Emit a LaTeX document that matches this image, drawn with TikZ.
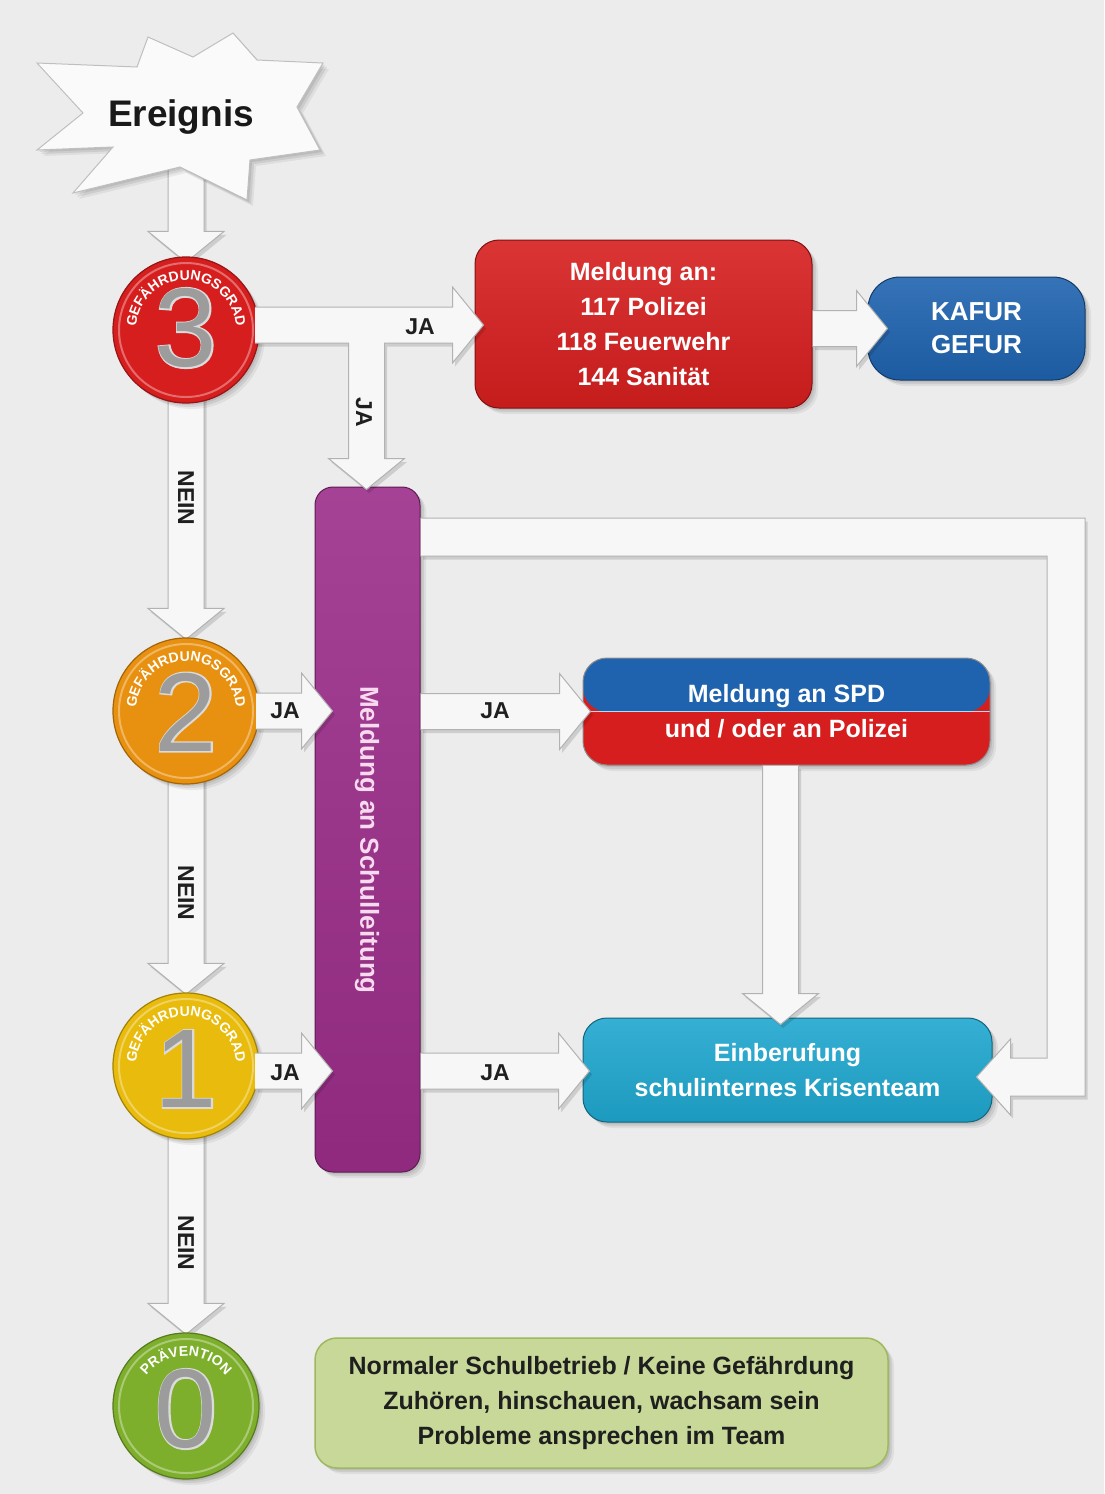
\documentclass[tikz,border=0pt]{standalone}
\usepackage{fontspec}
\setmainfont{Liberation Sans}
\newfontfamily\digitfontA[FakeBold=2.5]{Liberation Sans}
\usetikzlibrary{shadows,decorations.text,calc}
\pgfdeclarelayer{paper}
\pgfdeclarelayer{arrowsbg}
\pgfdeclarelayer{arrowsfg}
\pgfsetlayers{paper,arrowsbg,main,arrowsfg}

\definecolor{paperc}{HTML}{ECECEC}
\definecolor{redc}{HTML}{D61E1E}
\definecolor{bluec}{HTML}{1F63AF}
\definecolor{purplec}{HTML}{9B2D89}
\definecolor{cyanc}{HTML}{1FA7CF}
\definecolor{orangec}{HTML}{E8900F}
\definecolor{yellowc}{HTML}{E8BB0C}
\definecolor{greenc}{HTML}{7DAF2C}
\definecolor{olivec}{HTML}{C7D898}
\definecolor{oliveb}{HTML}{9FB95E}
\definecolor{pinkc}{HTML}{F7D9F0}
\definecolor{arrowc}{HTML}{F7F7F7}

\newcommand\fatSW{18}
\newcommand\fatHW{38}
\newcommand\fatHL{31}

\tikzset{
  softshadow/.style={
    drop shadow={fill=black,opacity=0.08,shadow xshift=2pt,shadow yshift=-2pt},
    drop shadow={fill=black,opacity=0.08,shadow xshift=4pt,shadow yshift=-4pt},
    drop shadow={fill=black,opacity=0.06,shadow xshift=6pt,shadow yshift=-6pt}},
  fatshadow/.style={fill=black,opacity=0.13,transform canvas={xshift=2.5pt,yshift=-3.5pt}},
  fatfill/.style={fill=arrowc},
  fatline/.style={draw=gray!60,line width=1pt,line join=miter},
  gcirc/.style={circle,minimum size=146pt,inner sep=0pt,fill=#1,draw=#1!70!black,line width=1.2pt,softshadow},
  box/.style={rounded corners=24pt,top color=#1!90!white,bottom color=#1!92!black,draw=#1!60!black,line width=1pt,
    text=white,font=\bfseries\fontsize{25}{35}\selectfont,align=center,inner sep=0pt,softshadow},
  lab/.style={font=\bfseries\fontsize{23}{23}\selectfont,text=black!88,inner sep=0pt},
  digitA/.style={font=\digitfontA\fontsize{112}{112}\selectfont,text=gray!28,inner sep=0pt},
  digitB/.style={font=\fontsize{112}{112}\selectfont,text=gray!78,inner sep=0pt},
  starsty/.style={fill=white!96!gray,draw=gray!50,line width=1pt,line join=miter,softshadow},
}

\newcommand\fatRpath{($(fa)+(0,\fatSW)$) -- ($(fb)+(-\fatHL,\fatSW)$) -- ($(fb)+(-\fatHL,\fatHW)$) -- (fb) -- ($(fb)+(-\fatHL,-\fatHW)$) -- ($(fb)+(-\fatHL,-\fatSW)$) -- ($(fa)+(0,-\fatSW)$)}
\newcommand\fatDpath{($(fa)+(-\fatSW,0)$) -- ($(fb)+(-\fatSW,\fatHL)$) -- ($(fb)+(-\fatHW,\fatHL)$) -- (fb) -- ($(fb)+(\fatHW,\fatHL)$) -- ($(fb)+(\fatSW,\fatHL)$) -- ($(fa)+(\fatSW,0)$)}
\newcommand\fatRight[2]{%
  \coordinate (fa) at (#1 |- #2); \coordinate (fb) at (#2);
  \fill[fatshadow] \fatRpath -- cycle;
  \fill[fatfill] \fatRpath -- cycle;
  \draw[fatline] \fatRpath;}
\newcommand\fatDown[2]{%
  \coordinate (fa) at (#2 |- #1); \coordinate (fb) at (#2);
  \fill[fatshadow] \fatDpath -- cycle;
  \fill[fatfill] \fatDpath -- cycle;
  \draw[fatline] \fatDpath;}
\newcommand\tPath{($(hs)+(0,18)$) -- ($(ht)+(-31,18)$) -- ($(ht)+(-31,38)$) -- (ht) -- ($(ht)+(-31,-38)$) -- ($(ht)+(-31,-18)$) -- ($(vj)+(18,-18)$) -- ($(vt)+(18,31)$) -- ($(vt)+(38,31)$) -- (vt) -- ($(vt)+(-38,31)$) -- ($(vt)+(-18,31)$) -- ($(vj)+(-18,-18)$) -- ($(hs)+(0,-18)$)}
\newcommand\uPath{($(sl.east |- uc)+(0,19)$) -- ($(uc)+(19,19)$) -- ($(uc |- kt)+(19,-19)$) -- ($(kt)+(34,-19)$) -- ($(kt)+(34,-38)$) -- (kt) -- ($(kt)+(34,38)$) -- ($(kt)+(34,19)$) -- ($(uc |- kt)+(-19,19)$) -- ($(uc)+(-19,-19)$) -- ($(sl.east |- uc)+(0,-19)$)}

\begin{document}
\begin{tikzpicture}[x=1pt,y=1pt]
\useasboundingbox (0,0) rectangle (1104,-1494);
\begin{pgfonlayer}{paper}
  \fill[paperc] (0,0) rectangle (1104,-1494);
\end{pgfonlayer}

% ---------- star ----------
\draw[starsty,shift={(181,-117)}] (-144,54) -- (-44,50) -- (-33,80) -- (12,60) -- (52,84) -- (76,57) -- (142,54)
  -- (116,10) -- (139,-33) -- (69,-43) -- (66,-83) -- (-1,-50) -- (-108,-76) -- (-68,-30) -- (-144,-33) -- (-98,4) -- cycle;
\node[font=\bfseries\fontsize{37}{37}\selectfont,text=black!90,inner sep=0pt] (ev) at (181,-117) {Ereignis};

% ---------- circles ----------
\node[gcirc=redc] (c3) at (186,-330) {};
\node[gcirc=orangec] (c2) at (186,-711) {};
\node[gcirc=yellowc] (c1) at (186,-1066) {};
\node[gcirc=greenc] (c0) at (186,-1406) {};
\foreach \c in {c3,c2,c1,c0} \draw[white,opacity=.35,line width=2pt] (\c) circle[radius=67];
\foreach \c/\d/\dy in {c3/3/2,c2/2/-1,c1/1/-3,c0/0/-3} {
  \node[digitA] (dA\d) at ($(\c)+(0,\dy)$) {\d};
  \node[digitB] (dB\d) at ($(\c)+(0,\dy)$) {\d};
}
\foreach \c in {c3,c2,c1}
  \path[decorate,decoration={text along path,text align=center,text color=white,
    text={|\bfseries\fontsize{14}{14}\selectfont|GEFÄHRDUNGSGRAD}}]
    ($(\c)+(190:50)$) arc[start angle=190,end angle=-10,radius=50];
\path[decorate,decoration={text along path,text align=center,text color=white,
    text={|\bfseries\fontsize{14}{14}\selectfont|PRÄVENTION}}]
    ($(c0)+(180:50)$) arc[start angle=180,end angle=0,radius=50];

% ---------- boxes ----------
\node[box=redc,minimum width=337pt,minimum height=168pt] (meld) at (643.5,-324)
  {Meldung an:\\117 Polizei\\118 Feuerwehr\\144 Sanität};
\node[box=bluec,rounded corners=32pt,minimum width=217pt,minimum height=103pt,
  font=\bfseries\fontsize{26}{33}\selectfont] (kafur) at (976.5,-328.5) {KAFUR\\GEFUR};
\node[box=purplec,rounded corners=18pt,minimum width=105pt,minimum height=685pt] (sl) at (367.5,-829.5) {};
\node[rotate=-90,font=\bfseries\fontsize{26}{26}\selectfont,text=pinkc,inner sep=0pt] (slt) at (367,-840) {Meldung an Schulleitung};
\node[rounded corners=24pt,minimum width=407pt,minimum height=107pt,draw=black!45,line width=1pt,
  text=white,font=\bfseries\fontsize{25}{35}\selectfont,align=center,inner sep=0pt,softshadow,fill=redc,
  path picture={
    \fill[bluec] (path picture bounding box.north west) rectangle (path picture bounding box.east);
    \fill[redc] (path picture bounding box.west) rectangle (path picture bounding box.south east);
    \draw[cyan!35!white,line width=1.5pt] (path picture bounding box.west) -- (path picture bounding box.east);
  }] (spd) at (786.5,-711.5) {Meldung an SPD\\und / oder an Polizei};
\node[box=cyanc,minimum width=409pt,minimum height=104pt] (krisen) at (787.5,-1070)
  {Einberufung\\schulinternes Krisenteam};
\node[rounded corners=22pt,fill=olivec,draw=oliveb,line width=1.5pt,minimum width=573pt,minimum height=130pt,
  text=black!88,font=\bfseries\fontsize{25}{35}\selectfont,align=center,inner sep=0pt,softshadow] (norm) at (601.5,-1403)
  {Normaler Schulbetrieb / Keine Gefährdung\\Zuhören, hinschauen, wachsam sein\\Probleme ansprechen im Team};

% ---------- arrows behind nodes ----------
\begin{pgfonlayer}{arrowsbg}
  \coordinate (c3t) at ($(c3.north)+(0,-6)$);
  \fatDown{ev.south}{c3t}
  \coordinate (c2t) at ($(c2.north)+(0,-2)$);
  \fatDown{c3.center}{c2t}
  \coordinate (c1t) at ($(c1.north)+(0,-2)$);
  \fatDown{c2.center}{c1t}
  \coordinate (c0t) at ($(c0.north)+(0,-2)$);
  \fatDown{c1.center}{c0t}
\end{pgfonlayer}

% ---------- arrows over nodes ----------
\begin{pgfonlayer}{arrowsfg}
  % T from level 3
  \coordinate (c3r) at ($(c3)+(69,0)$);
  \coordinate (ht) at ($(meld.west)+(9,-1)$);
  \coordinate (hs) at (c3r |- ht);
  \coordinate (vt) at ($(sl.north)+(-1,-3)$);
  \coordinate (vj) at (vt |- ht);
  \fill[fatshadow] \tPath -- cycle;
  \fill[fatfill] \tPath -- cycle;
  \draw[fatline] \tPath;
  % to KAFUR
  \coordinate (kft) at ($(kafur.west)+(20,0)$);
  \fatRight{meld.east}{kft}
  % level 2
  \coordinate (c2r) at ($(c2)+(70,0)$);
  \coordinate (sl2) at ($(sl.west |- c2)+(18,0)$);
  \fatRight{c2r}{sl2}
  \coordinate (spdt) at ($(spd.west)+(8,0)$);
  \fatRight{sl.east}{spdt}
  % level 1
  \coordinate (c1r) at ($(c1)+(69,0)$);
  \coordinate (sl1) at ($(sl.west |- krisen.west)+(18,-1)$);
  \fatRight{c1r}{sl1}
  \coordinate (kwt) at ($(krisen.west)+(7,-1)$);
  \fatRight{sl.east}{kwt}
  % SPD down to Krisenteam
  \coordinate (kn) at ($(krisen.north)+(-7,-7)$);
  \fatDown{spd.south}{kn}
  % return loop
  \coordinate (uc) at (1066,-537);
  \coordinate (kt) at ($(krisen.east)+(-16,-7)$);
  \fill[fatshadow] \uPath -- cycle;
  \fill[fatfill] \uPath -- cycle;
  \draw[fatline] \uPath;
  % labels
  \node[lab] (ja1) at (420,-327) {JA};
  \node[lab,rotate=-90] (ja2) at (364,-412) {JA};
  \node[lab] (ja3) at (285,-711) {JA};
  \node[lab] (ja4) at (495,-711) {JA};
  \node[lab] (ja5) at (285,-1073) {JA};
  \node[lab] (ja6) at (495,-1073) {JA};
  \node[lab,rotate=-90] (n1) at (186,-498) {NEIN};
  \node[lab,rotate=-90] (n2) at (186,-893) {NEIN};
  \node[lab,rotate=-90] (n3) at (186,-1243) {NEIN};
\end{pgfonlayer}
\end{tikzpicture}
\end{document}
